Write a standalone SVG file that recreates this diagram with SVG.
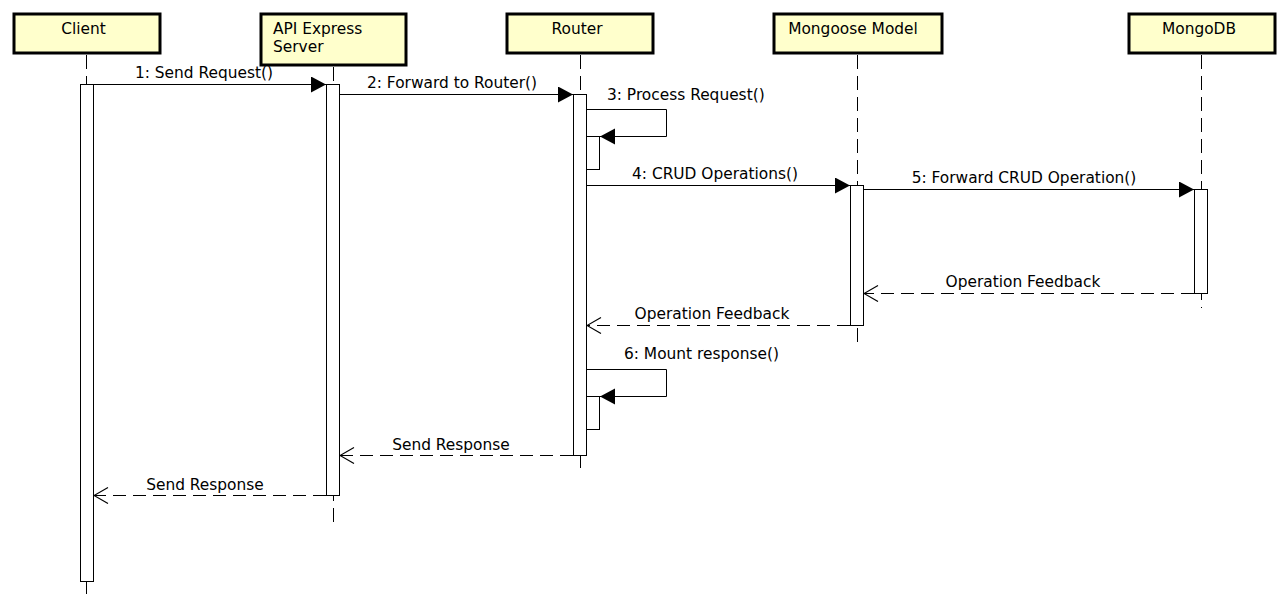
<svg xmlns="http://www.w3.org/2000/svg" width="1288" height="616" viewBox="0 0 1288 616">
<style>
text{font-family:"DejaVu Sans","Liberation Sans",sans-serif;font-size:15.4px;fill:#000}
.hdr{fill:#ffffcc;stroke:#000;stroke-width:3}
.life{stroke:#000;stroke-width:1;stroke-dasharray:14 7;fill:none}
.act{fill:#fff;stroke:#000;stroke-width:1}
.msg{stroke:#000;stroke-width:1;fill:none}
.ret{stroke:#000;stroke-width:1;fill:none;stroke-dasharray:13 7}
.mid{text-anchor:middle}
</style>
<defs>
<marker id="fill" markerUnits="userSpaceOnUse" markerWidth="16" markerHeight="17" refX="15" refY="8" orient="auto"><path d="M0,0 L15,8 L0,16 Z" fill="#000"/></marker>
<marker id="open" markerUnits="userSpaceOnUse" markerWidth="16" markerHeight="18" refX="14.5" refY="8.5" orient="auto"><path d="M0.5,0.5 L14.5,8.5 L0.5,16.5" fill="none" stroke="#000" stroke-width="1.2" stroke-dasharray="none"/></marker>
</defs>
<rect width="1288" height="616" fill="#fff"/>

<g id="lifelines">
<line class="life" x1="86.5" y1="55" x2="86.5" y2="597"/>
<line class="life" x1="333.5" y1="67" x2="333.5" y2="527"/>
<line class="life" x1="580.5" y1="55" x2="580.5" y2="475"/>
<line class="life" x1="857.5" y1="55" x2="857.5" y2="345"/>
<line class="life" x1="1201.5" y1="55" x2="1201.5" y2="308"/>
</g>

<g id="client">
<rect class="hdr" x="14" y="14" width="146" height="39"/>
<text class="mid" x="83.5" y="34">Client</text>
<rect class="act" x="80.5" y="84.5" width="13" height="497"/>
</g>
<g id="api">
<rect class="hdr" x="261" y="14" width="145" height="51"/>
<text x="273" y="34">API Express</text>
<text x="273" y="52">Server</text>
<rect class="act" x="326.5" y="84.5" width="13" height="411"/>
</g>
<g id="router">
<rect class="hdr" x="507" y="14" width="146" height="39"/>
<text class="mid" x="577" y="34">Router</text>
<rect class="act" x="573.5" y="94.5" width="13" height="361"/>
<rect class="act" x="586.5" y="136.5" width="13" height="33"/>
<rect class="act" x="586.5" y="396.5" width="13" height="33"/>
</g>
<g id="mongoose">
<rect class="hdr" x="774" y="14" width="168" height="39"/>
<text class="mid" x="853" y="34">Mongoose Model</text>
<rect class="act" x="850.5" y="185.5" width="13" height="140"/>
</g>
<g id="mongodb">
<rect class="hdr" x="1129" y="14" width="146" height="39"/>
<text class="mid" x="1199" y="34">MongoDB</text>
<rect class="act" x="1194.5" y="189.5" width="13" height="104"/>
</g>

<g id="connectors">
<line class="msg" x1="94" y1="84.5" x2="326" y2="84.5" marker-end="url(#fill)"/>
<text class="mid" x="204" y="78">1: Send Request()</text>
<line class="msg" x1="340" y1="94.5" x2="573" y2="94.5" marker-end="url(#fill)"/>
<text class="mid" x="452" y="88">2: Forward to Router()</text>
<path class="msg" d="M587,109.5 H666.5 V136.5 H600" marker-end="url(#fill)"/>
<text x="607" y="100">3: Process Request()</text>
<line class="msg" x1="587" y1="185.5" x2="850" y2="185.5" marker-end="url(#fill)"/>
<text class="mid" x="715" y="179">4: CRUD Operations()</text>
<line class="msg" x1="864" y1="189.5" x2="1194" y2="189.5" marker-end="url(#fill)"/>
<text class="mid" x="1024" y="183">5: Forward CRUD Operation()</text>
<line class="ret" x1="1194" y1="293.5" x2="864" y2="293.5" marker-end="url(#open)"/>
<text class="mid" x="1023" y="287">Operation Feedback</text>
<line class="ret" x1="850" y1="325.5" x2="587" y2="325.5" marker-end="url(#open)"/>
<text class="mid" x="712" y="319">Operation Feedback</text>
<path class="msg" d="M587,369.5 H666.5 V396.5 H600" marker-end="url(#fill)"/>
<text x="624" y="359">6: Mount response()</text>
<line class="ret" x1="573" y1="455.5" x2="340" y2="455.5" marker-end="url(#open)"/>
<text class="mid" x="451" y="450">Send Response</text>
<line class="ret" x1="326" y1="495.5" x2="94" y2="495.5" marker-end="url(#open)"/>
<text class="mid" x="205" y="490">Send Response</text>
</g>
</svg>
